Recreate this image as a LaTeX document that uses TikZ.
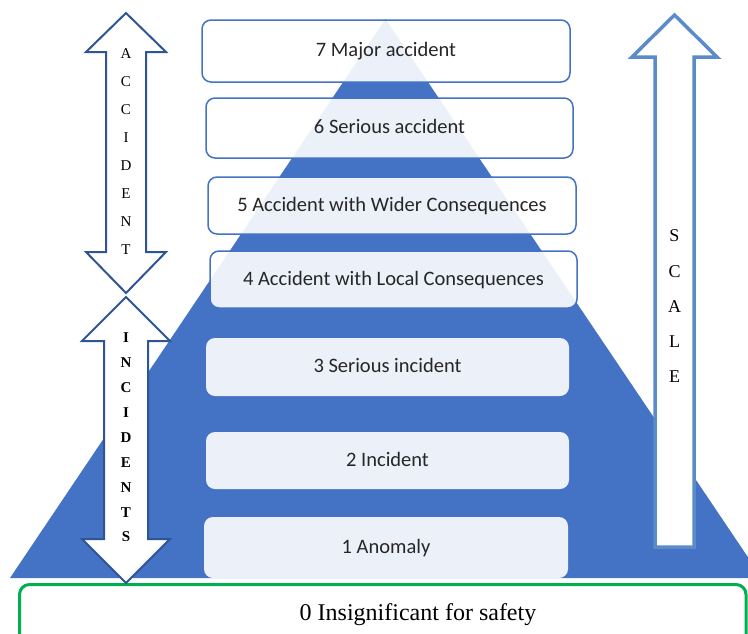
\documentclass[tikz,border=0pt]{standalone}
\usepackage{fontspec}
\setmainfont{Liberation Serif}
\newfontfamily\boxfont{Carlito}
\definecolor{pyrblue}{HTML}{4472C4}
\definecolor{arrowblue}{HTML}{2F5597}
\definecolor{scaleblue}{HTML}{5B8BC8}
\definecolor{safegreen}{HTML}{00B050}

\begin{document}
\begin{tikzpicture}[x=1pt,y=-1pt,
   rung/.style={rectangle,rounded corners=9pt,fill=white,fill opacity=0.9,text opacity=1,
      minimum width=367pt,minimum height=58pt,inner sep=0pt,text=black!85,
      text height=14pt,text depth=3pt,
      font=\boxfont\fontsize{20.5}{24}\selectfont},
   rimmed/.style={draw=pyrblue,line width=1.5pt},
   letters/.style={align=center,inner sep=0pt},
   dblarrow/.style={draw=arrowblue,line width=2pt,fill=white,line join=miter}]
\clip (0,0) rectangle (748,633);

% pyramid
\fill[pyrblue] (385.5,19) -- (762,578) -- (10,578) -- cycle;

\node[rung,rimmed,minimum width=368pt,minimum height=62pt] (r7) at (386,51) {7 Major accident};
\node[rung,rimmed,minimum height=60pt] (r6) at (389.5,128) {6 Serious accident};
\node[rung,rimmed,minimum width=368pt,minimum height=57pt] (r5) at (392,205.5) {5 Accident with Wider Consequences};
\node[rung,rimmed,minimum height=57pt] (r4) at (393.5,279.5) {4 Accident with Local Consequences};
\node[rung,minimum width=363pt] (r3) at (387.5,367) {3 Serious incident};
\node[rung,minimum width=363pt,minimum height=57pt] (r2) at (387.5,460.5) {2 Incident};
\node[rung,minimum width=364pt,minimum height=61pt] (r1) at (386,547.5) {1 Anomaly};

% level 0
\draw[safegreen,line width=3pt,rounded corners=10pt,fill=white] (19.5,584.5) rectangle (746,680);
\node[font=\fontsize{24}{28}\selectfont,anchor=base] (r0) at (418,620) {0 Insignificant for safety};

% side arrows
\draw[dblarrow] (126,13) -- (166,52) -- (146,52) -- (146,252) -- (166,252) -- (126,293)
   -- (86,252) -- (106,252) -- (106,52) -- (86,52) -- cycle;
\node[letters,font=\fontsize{15}{28}\selectfont] (acc) at (126,151.5) {A\\C\\C\\I\\D\\E\\N\\T};

\draw[dblarrow] (126,297) -- (170,341) -- (148,341) -- (148,539) -- (170,539) -- (126,583)
   -- (82,539) -- (104,539) -- (104,341) -- (82,341) -- cycle;
\node[letters,font=\bfseries\fontsize{15}{24.9}\selectfont] (inc) at (126,437.5) {I\\N\\C\\I\\D\\E\\N\\T\\S};

\draw[dblarrow,draw=scaleblue,line width=3.5pt] (674.5,15) -- (717,57) -- (694,57) -- (694,547)
   -- (655,547) -- (655,57) -- (632,57) -- cycle;
\node[letters,font=\fontsize{18}{35.25}\selectfont] (scl) at (674.5,306.5) {S\\C\\A\\L\\E};
\end{tikzpicture}
\end{document}
